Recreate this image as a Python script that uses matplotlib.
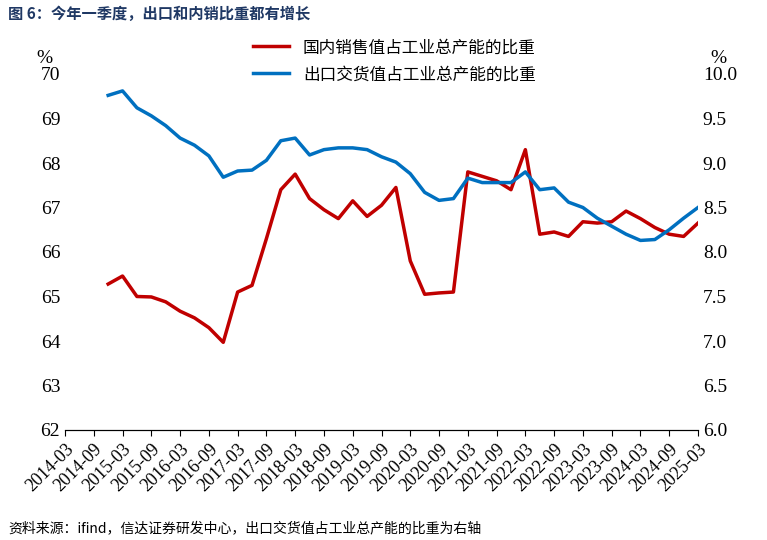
import matplotlib.pyplot as plt
import numpy as np

# quarterly data, 2014-12 .. 2025-03
domestic = [65.28, 65.46, 65.0, 64.99, 64.88, 64.67, 64.52, 64.3, 63.97, 65.1, 65.25,
            66.3, 67.4, 67.75, 67.2, 66.95, 66.75, 67.15, 66.8, 67.05, 67.45, 65.8,
            65.05, 65.08, 65.1, 67.8, 67.7, 67.6, 67.4, 68.3, 66.4, 66.45, 66.35,
            66.68, 66.65, 66.68, 66.92, 66.75, 66.55, 66.4, 66.35, 66.65]
export = [9.76, 9.81, 9.62, 9.53, 9.42, 9.28, 9.2, 9.08, 8.84, 8.91, 8.92,
          9.03, 9.25, 9.28, 9.09, 9.15, 9.17, 9.17, 9.15, 9.07, 9.01, 8.88,
          8.67, 8.58, 8.6, 8.83, 8.78, 8.78, 8.78, 8.9, 8.7, 8.72, 8.56,
          8.5, 8.38, 8.29, 8.2, 8.13, 8.14, 8.25, 8.38, 8.5]
tick_labels = [f"{y}-{m}" for y in range(2014, 2026) for m in ("03", "09")][:-1]

CJK = "Noto Sans CJK SC"
NUM = "Liberation Serif"

x = np.arange(len(domestic)) + 3  # quarter index from 2014-03

fig = plt.figure(figsize=(7.67, 5.4), dpi=100)
ax = fig.add_axes([65/767, 110/540, 633/767, 356/540])
ax2 = ax.twinx()

l1, = ax.plot(x, domestic, color="#C00000", lw=2.5)
l2, = ax2.plot(x, export, color="#0070C0", lw=2.5)

ax.set_xlim(0, 44)
ax.set_ylim(62, 70)
ax2.set_ylim(6, 10)
ax.set_xticks(np.arange(0, 45, 2))
ax.set_xticklabels(tick_labels, rotation=45, ha="right", rotation_mode="anchor",
                   fontname=NUM, fontsize=13)
ax.set_yticks(range(62, 71))
ax.set_yticklabels([str(v) for v in range(62, 71)], fontname=NUM, fontsize=14)
ax2.set_yticks(np.arange(6, 10.01, 0.5))
ax2.set_yticklabels([f"{v:.1f}" for v in np.arange(6, 10.01, 0.5)], fontname=NUM, fontsize=14)
for a in (ax, ax2):
    a.tick_params(axis="y", length=0)
    for s in ("top", "left", "right"):
        a.spines[s].set_visible(False)
ax.tick_params(axis="x", length=4, direction="out")

ax.text(-0.02, 1.03, "%", transform=ax.transAxes, ha="right", fontname=NUM, fontsize=14)
ax2.text(1.02, 1.03, "%", transform=ax.transAxes, ha="left", fontname=NUM, fontsize=14)

ax.legend([l1, l2], ["国内销售值占工业总产能的比重", "出口交货值占工业总产能的比重"],
          loc="upper center", bbox_to_anchor=(0.52, 1.14), frameon=False,
          prop={"family": CJK, "size": 12}, handlelength=2.2, labelspacing=0.6)

fig.text(8/767, 1 - 14/540, "图 6：今年一季度，出口和内销比重都有增长", fontname=CJK,
         fontsize=11, fontweight="bold", color="#1F3864", va="center")
fig.text(8/767, 12/540, "资料来源：ifind，信达证券研发中心，出口交货值占工业总产能的比重为右轴",
         fontname=CJK, fontsize=10, style="italic", va="center")

fig.savefig("out.png", dpi=100)
